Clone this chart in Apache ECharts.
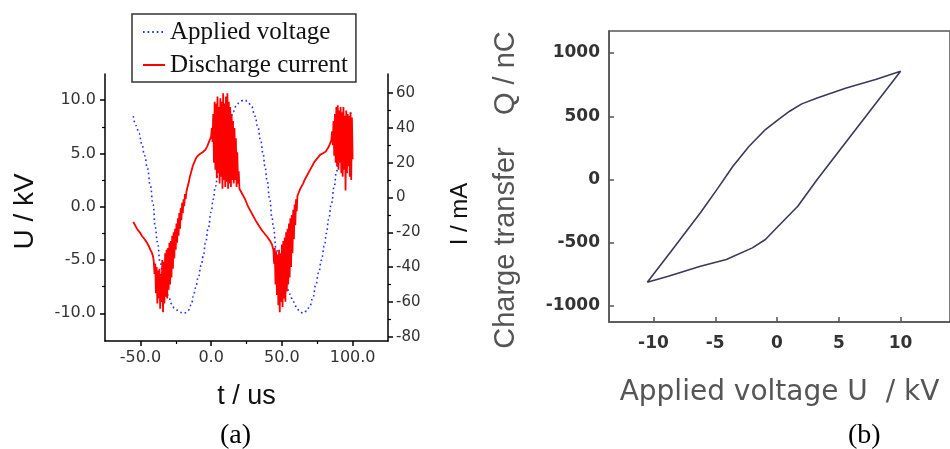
<!DOCTYPE html>
<html>
<head>
<meta charset="utf-8">
<script src="https://cdn.jsdelivr.net/npm/echarts@6/dist/echarts.min.js"></script>
<style>
html, body { margin: 0; padding: 0; background: #fff; }
#chart { width: 950px; height: 449px; }
</style>
</head>
<body>
<div id="chart"></div>
<script>
// (a) applied voltage, [t (us), U (kV)]
var voltageTrace = [
  [-55, 8.5], [-53, 7.6], [-51, 6.9], [-49, 5.9], [-47, 4.8], [-45, 3.6], [-43, 2.0], [-41, 0.2],
  [-39.5, -1.9], [-38, -3.3], [-36, -5.2], [-34, -6.5], [-32, -7.7], [-30, -8.5], [-28, -9.1],
  [-26, -9.5], [-24, -9.7], [-22, -9.9], [-20, -10.0], [-18, -9.95], [-16, -9.7], [-14, -9.2],
  [-12.5, -8.4], [-11, -7.6], [-9, -6.6], [-7, -5.5], [-5.5, -4.6], [-4, -3.4], [-2, -2.0],
  [0, -0.5], [1.5, 0.7], [3, 1.9], [5, 3.3], [7, 5.0], [8.5, 6.0], [10, 6.9], [11.5, 7.6],
  [13.5, 8.3], [15.5, 8.9], [18, 9.5], [20, 9.8], [22, 9.95], [24, 10.0], [26, 9.8], [28.6, 9.4],
  [31, 8.5], [33, 7.5], [35, 6.2], [36.7, 5.0], [38, 3.8], [39.5, 2.5], [41.5, 0.6], [43, -1.0],
  [44, -1.9], [46, -4.0], [48.5, -5.5], [51, -6.6], [53, -7.4], [55.6, -8.2], [58, -8.9],
  [60, -9.35], [62.5, -9.8], [65, -10.0], [67.5, -9.8], [69.7, -9.35], [72, -8.5], [74, -7.3],
  [76, -6.2], [78, -5.0], [80, -3.7], [81.5, -2.5], [83, -1.2], [85, 0.3], [87, 1.9], [88.5, 3.2],
  [90, 4.3], [92, 5.6], [94, 6.8], [95.5, 7.5], [97, 8.1], [99, 8.8], [100, 9.0]
];

// (a) discharge current, [t (us), I (mA)], bursts read as high/low swings
var currentTrace = [
  [-55, -14], [-54, -15.5], [-53, -17], [-52, -18.5], [-51, -19.5], [-50, -20.5], [-49, -22],
  [-48, -23], [-47, -24], [-46, -25], [-45, -26.5], [-44, -28], [-43, -30], [-42, -31.5],
  [-41, -34], [-40.5, -37],
  [-40, -44], [-39.5, -38], [-39, -55], [-38.5, -40], [-38, -61], [-37.5, -42], [-37, -58],
  [-36.5, -41], [-36, -64], [-35.5, -44], [-35, -60], [-34.5, -36], [-34, -66], [-33.5, -37],
  [-33, -61], [-32.5, -32], [-32, -57], [-31.5, -30], [-31, -58], [-30.5, -29], [-30, -53],
  [-29.5, -26], [-29, -50], [-28.5, -25], [-28, -46], [-27.5, -22], [-27, -41], [-26.5, -20],
  [-26, -35], [-25.5, -18], [-25, -30], [-24.5, -15], [-24, -26], [-23.5, -12], [-23, -22],
  [-22.5, -9], [-22, -18], [-21.5, -6], [-21, -13], [-20.5, -3], [-20, -9], [-19.5, -1],
  [-19, -5], [-18.5, 2], [-18, -1], [-17.5, 3],
  [-17, 5], [-16, 8], [-15, 12], [-14, 15], [-13, 18], [-12, 20], [-11, 22], [-10, 23.5],
  [-9, 24.5], [-8, 25], [-7, 25.5], [-6, 26], [-5, 26.5], [-4, 27.5], [-3, 29], [-2, 31],
  [-1, 33], [0, 35],
  [0.5, 40], [1, 32], [1.5, 48], [2, 20], [2.5, 55], [3, 16], [3.5, 54], [4, 11], [4.5, 58],
  [5, 14], [5.5, 52], [6, 8], [6.5, 57], [7, 12], [7.5, 55], [8, 5], [8.5, 60], [9, 10],
  [9.5, 54], [10, 6], [10.5, 58], [11, 9], [11.5, 60], [12, 5], [12.5, 55], [13, 8], [13.5, 52],
  [14, 6], [14.5, 48], [15, 10], [15.5, 44], [16, 8], [16.5, 40], [17, 10], [17.5, 34], [18, 6],
  [18.5, 26], [19, 8], [19.5, 15], [20, 5],
  [21, 4], [22, 2], [23, 0.5], [24, -1], [25, -3], [26, -5], [27, -6.5], [28, -8], [29, -9.5],
  [30, -11], [32, -14], [34, -16.5], [36, -19], [38, -21], [40, -23], [42, -25.5], [43, -27],
  [44, -30],
  [44.5, -38], [45, -29], [45.5, -50], [46, -31], [46.5, -56], [47, -33], [47.5, -62], [48, -30],
  [48.5, -66], [49, -32], [49.5, -60], [50, -27], [50.5, -63], [51, -25], [51.5, -58], [52, -23],
  [52.5, -60], [53, -20], [53.5, -54], [54, -18], [54.5, -50], [55, -15], [55.5, -46], [56, -12],
  [56.5, -40], [57, -10], [57.5, -32], [58, -7], [58.5, -24], [59, -4], [59.5, -16], [60, -1],
  [60.5, -8], [61, 1],
  [62, 3], [63, 5], [64, 6.5], [65, 8], [66, 10], [67, 11.5], [68, 13], [69, 14.5], [70, 16],
  [71, 17.5], [72, 19], [73, 20.5], [74, 21.5], [75, 22.5], [76, 23.5], [77, 24.5], [78, 25],
  [79, 25.5], [80, 26], [81, 26.5], [82, 27.5], [83, 29], [84, 31], [85, 33],
  [85.5, 38], [86, 30], [86.5, 44], [87, 24], [87.5, 48], [88, 20], [88.5, 52], [89, 18],
  [89.5, 53], [90, 16], [90.5, 50], [91, 20], [91.5, 52], [92, 14], [92.5, 49], [93, 12],
  [93.5, 52], [94, 16], [94.5, 47], [95, 4], [95.5, 50], [96, 14], [96.5, 48], [97, 18],
  [97.5, 47], [98, 12], [98.5, 49], [99, 10], [99.5, 46], [100, 22]
];

// (b) Q-U loop, [U (kV), Q (nC)]
var loopTrace = [
  [-10.5, -811], [-8.4, -545], [-6.2, -263], [-4.8, -70], [-3.57, 105], [-2.26, 263],
  [-0.94, 395], [0.1, 474], [1.02, 540], [2.0, 598], [3.25, 645], [5.6, 724], [7.98, 790],
  [10.0, 855],
  [8.3, 640], [6.6, 425], [4.9, 210], [3.25, 0], [1.68, -211], [0.63, -316], [-0.16, -395],
  [-0.94, -474], [-2.0, -540], [-4.1, -632], [-6.2, -685], [-8.8, -764], [-10.5, -811]
];

var timeTicks = [-50, 0, 50, 100];
var timeMinorTicks = [-25, 25, 75];
var voltageTicks = [-10, -5, 0, 5, 10];
var voltageMinorTicks = [-7.5, -2.5, 2.5, 7.5];
var currentTicks = [-80, -60, -40, -20, 0, 20, 40, 60];
var currentMinorTicks = [-70, -50, -30, -10, 10, 30, 50];
var loopUTicks = [-10, -5, 0, 5, 10];
var loopQTicks = [-1000, -500, 0, 500, 1000];

var chart = echarts.init(document.getElementById('chart'));

var blackLine = { color: '#000', width: 1.5 };
var greyLine = { color: '#555', width: 1.5 };
var labelA = { fontFamily: 'DejaVu Sans', fontSize: 16, color: '#333' };
var labelB = { fontFamily: 'DejaVu Sans', fontSize: 17, fontWeight: 'bold', color: '#333' };
var plain = function (v) { return String(v); };
var oneDecimal = function (v) { return v.toFixed(1); };

function minorAxis(grid, pos, min, max, ticks) {
  return {
    gridIndex: grid, type: 'value', position: pos, min: min, max: max,
    axisLine: { show: false, onZero: false },
    axisTick: { customValues: ticks, length: 3, lineStyle: { color: '#000', width: 1.2 } },
    axisLabel: { show: false },
    splitLine: { show: false }
  };
}

var option = {
  animation: false,
  backgroundColor: '#fff',
  title: [
    { text: '(a)', left: 220, top: 422, padding: 0,
      textStyle: { fontFamily: 'Liberation Serif', fontSize: 28, fontWeight: 'normal', color: '#000' } },
    { text: '(b)', left: 848, top: 422, padding: 0,
      textStyle: { fontFamily: 'Liberation Serif', fontSize: 28, fontWeight: 'normal', color: '#000' } }
  ],
  legend: {
    data: ['Applied voltage', 'Discharge current'],
    orient: 'vertical', left: 132, top: 14,
    itemWidth: 22, itemHeight: 10, itemGap: 5,
    padding: [4, 8, 3, 10],
    backgroundColor: '#fff', borderColor: '#333', borderWidth: 1.5,
    itemStyle: { opacity: 0 },
    textStyle: { fontFamily: 'Liberation Serif', fontSize: 25, color: '#111', lineHeight: 28 }
  },
  grid: [
    { left: 105, top: 74, width: 283, height: 267 },
    { left: 609, top: 31, width: 350, height: 291, show: true, borderColor: '#555', borderWidth: 1.5 },
    { left: 105, top: 74, width: 283, height: 267 }
  ],
  xAxis: [
    {
      gridIndex: 0, type: 'value', min: -75, max: 125,
      axisLine: { onZero: false, lineStyle: blackLine },
      axisTick: { customValues: timeTicks, length: 5, lineStyle: blackLine },
      axisLabel: Object.assign({ customValues: timeTicks, margin: 9, formatter: oneDecimal }, labelA),
      splitLine: { show: false },
      name: 't / us', nameLocation: 'middle', nameGap: 42,
      nameTextStyle: { fontFamily: 'Liberation Sans', fontSize: 27, color: '#111' }
    },
    {
      gridIndex: 1, type: 'value', min: -13.6, max: 14,
      axisLine: { onZero: false, lineStyle: greyLine },
      axisTick: { inside: true, customValues: loopUTicks, length: 5, lineStyle: greyLine },
      axisLabel: Object.assign({ customValues: loopUTicks, margin: 13, formatter: plain }, labelB),
      splitLine: { show: false },
      name: 'Applied voltage U  / kV', nameLocation: 'middle', nameGap: 57,
      nameTextStyle: { fontFamily: 'DejaVu Sans', fontSize: 28, color: '#555' }
    },
    minorAxis(2, 'bottom', -75, 125, timeMinorTicks)
  ],
  yAxis: [
    {
      gridIndex: 0, type: 'value', position: 'left', min: -12.6, max: 12.45,
      axisLine: { onZero: false, lineStyle: blackLine },
      axisTick: { customValues: voltageTicks, length: 5, lineStyle: blackLine },
      axisLabel: Object.assign({ customValues: voltageTicks, margin: 9, formatter: oneDecimal }, labelA),
      splitLine: { show: false },
      name: 'U / kV', nameLocation: 'middle', nameGap: 66,
      nameTextStyle: { fontFamily: 'Liberation Sans', fontSize: 28, color: '#111', padding: [0, 8, 0, 0] }
    },
    {
      gridIndex: 0, type: 'value', position: 'right', min: -82.5, max: 71,
      axisLine: { onZero: false, lineStyle: blackLine },
      axisTick: { customValues: currentTicks, length: 5, lineStyle: blackLine },
      axisLabel: Object.assign({ customValues: currentTicks, margin: 8, formatter: plain }, labelA, { fontSize: 15 }),
      splitLine: { show: false },
      name: 'I / mA', nameLocation: 'middle', nameGap: 60,
      nameTextStyle: { fontFamily: 'Liberation Sans', fontSize: 24, color: '#111', padding: [0, 13, 0, 0] }
    },
    {
      gridIndex: 1, type: 'value', min: -1126, max: 1174,
      axisLine: { onZero: false, lineStyle: greyLine },
      axisTick: { inside: true, customValues: loopQTicks, length: 5, lineStyle: greyLine },
      axisLabel: Object.assign({ customValues: loopQTicks, margin: 9, formatter: plain }, labelB),
      splitLine: { show: false },
      name: 'Charge transfer    Q / nC', nameLocation: 'middle', nameGap: 89,
      nameTextStyle: { fontFamily: 'Liberation Sans', fontSize: 29, color: '#555', padding: [0, 27, 0, 0] }
    },
    minorAxis(2, 'left', -12.6, 12.45, voltageMinorTicks),
    minorAxis(2, 'right', -82.5, 71, currentMinorTicks)
  ],
  series: [
    {
      name: 'Applied voltage', type: 'line', xAxisIndex: 0, yAxisIndex: 0,
      data: voltageTrace, symbol: 'none', smooth: true, smoothMonotone: 'x',
      itemStyle: { color: '#1f2dff' },
      lineStyle: { color: '#1f2dff', width: 1.6, type: [1.6, 3] }
    },
    {
      name: 'Discharge current', type: 'line', xAxisIndex: 0, yAxisIndex: 1,
      data: currentTrace, symbol: 'none', sampling: null,
      itemStyle: { color: '#ff0000' },
      lineStyle: { color: '#ff0000', width: 1.8 }
    },
    {
      name: 'Q-U loop', type: 'line', xAxisIndex: 1, yAxisIndex: 2,
      data: loopTrace, symbol: 'none',
      lineStyle: { color: '#3a3a58', width: 1.6 }
    }
  ]
};

chart.setOption(option);
</script>
</body>
</html>
